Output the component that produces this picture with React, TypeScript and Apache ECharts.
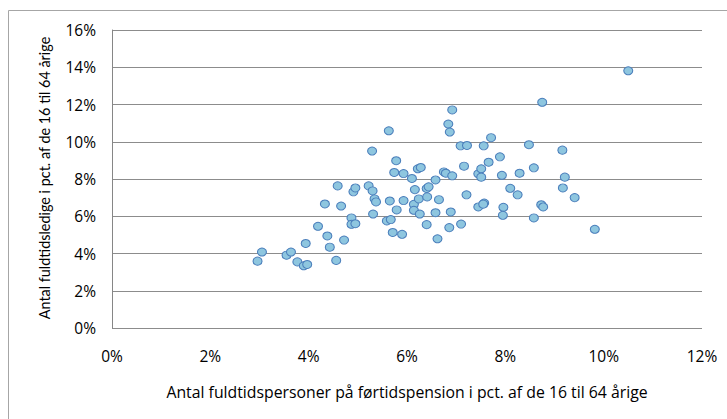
import React, { useEffect, useRef } from "react";
import * as echarts from "echarts";

// Antal fuldtidspersoner på førtidspension (pct.)
const pensionPct: number[] = [
  2.96, 3.05, 3.55, 3.64, 3.77, 3.9, 3.97, 3.94, 4.19, 4.33,
  4.38, 4.43, 4.56, 4.59, 4.66, 4.72, 4.87, 4.87, 4.95, 4.91,
  4.95, 5.22, 5.29, 5.3, 5.34, 5.37, 5.31, 5.59, 5.67, 5.63,
  5.71, 5.65, 5.74, 5.78, 5.79, 5.9, 5.93, 5.93, 6.1, 6.16,
  6.14, 6.14, 6.24, 6.26, 6.22, 6.28, 6.4, 6.4, 6.44, 6.41,
  6.58, 6.58, 6.62, 6.65, 6.75, 6.79, 6.84, 6.87, 6.92, 6.92,
  6.86, 6.89, 7.1, 7.09, 7.22, 7.16, 7.21, 7.45, 7.45, 7.51,
  7.51, 7.56, 7.57, 7.55, 7.66, 7.71, 7.89, 7.93, 7.96, 7.95,
  8.1, 8.25, 8.29, 8.48, 8.58, 8.58, 8.75, 8.73, 8.77, 9.16,
  9.21, 9.17, 9.41, 9.82, 10.5,
];

// Antal fuldtidsledige (pct.)
const ledigePct: number[] = [
  3.59, 4.08, 3.91, 4.08, 3.55, 3.34, 3.41, 4.54, 5.46, 6.66,
  4.94, 4.34, 3.63, 7.63, 6.55, 4.72, 5.91, 5.57, 5.6, 7.31,
  7.52, 7.63, 9.5, 7.36, 6.93, 6.77, 6.12, 5.75, 5.82, 10.59,
  5.13, 6.82, 8.35, 8.98, 6.34, 5.03, 6.84, 8.29, 8.03, 7.43,
  6.64, 6.32, 6.93, 6.12, 8.55, 8.62, 5.55, 7.49, 7.58, 7.04,
  7.95, 6.19, 4.79, 6.89, 8.38, 8.31, 10.95, 10.52, 11.71, 8.17,
  5.39, 6.23, 5.58, 9.78, 9.8, 8.69, 7.15, 6.5, 8.28, 8.55,
  8.1, 9.78, 6.71, 6.65, 8.9, 10.22, 9.19, 8.2, 6.48, 6.05,
  7.5, 7.15, 8.31, 9.84, 8.6, 5.91, 12.12, 6.62, 6.5, 9.55,
  8.1, 7.52, 7.0, 5.3, 13.81,
];

const xTitle = "Antal fuldtidspersoner på førtidspension i pct. af de 16 til 64 årige";
const yTitle = "Antal fuldtidsledige i pct. af de 16 til 64 årige";

export default function App() {
  const ref = useRef<HTMLDivElement>(null);

  useEffect(() => {
    if (!ref.current) return;
    const chart = echarts.init(ref.current, null, { renderer: "svg" });
    const data = pensionPct.map((x, i) => [x, ledigePct[i]]);
    const hFont = "'Open Sans', sans-serif";
    chart.setOption({
      animation: false,
      backgroundColor: "#ffffff",
      grid: { left: 112, right: 25, top: 30, bottom: 91 },
      xAxis: {
        type: "value",
        min: 0,
        max: 12,
        interval: 2,
        axisLine: { show: false },
        axisTick: { show: false },
        splitLine: { show: false },
        axisLabel: {
          formatter: (v: number) => `${v}%`,
          color: "#000",
          fontFamily: hFont,
          fontSize: 15.5,
          margin: 20,
        },
      },
      yAxis: {
        type: "value",
        min: 0,
        max: 16,
        interval: 2,
        axisLine: { show: true, lineStyle: { color: "#868686", width: 1 } },
        axisTick: { show: false },
        splitLine: { show: true, lineStyle: { color: "#8c8c8c", width: 1 } },
        axisLabel: {
          formatter: (v: number) => `${v}%`,
          color: "#000",
          fontFamily: hFont,
          fontSize: 15.5,
          margin: 16,
        },
      },
      graphic: [
        {
          type: "rect",
          shape: { x: 8.5, y: 10.5, width: 740, height: 430 },
          style: { fill: "none", stroke: "#a6a6a6", lineWidth: 1 },
          silent: true,
        },
        {
          type: "text",
          x: 407,
          y: 392,
          style: {
            text: xTitle,
            fontFamily: hFont,
            fontSize: 15.8,
            fill: "#000",
            align: "center",
            verticalAlign: "middle",
          },
        },
        {
          type: "text",
          x: 44,
          y: 178,
          rotation: Math.PI / 2,
          style: {
            text: yTitle,
            fontFamily: "Lato, sans-serif",
            fontSize: 14.4,
            fill: "#000",
            align: "center",
            verticalAlign: "middle",
          },
        },
      ],
      series: [
        {
          type: "scatter",
          data,
          symbol: "circle",
          symbolSize: [9, 8],
          itemStyle: {
            color: "#8ec6df",
            borderColor: "#4a7ebb",
            borderWidth: 1,
            opacity: 1,
          },
        },
      ],
    });
    return () => chart.dispose();
  }, []);

  return (
    <div
      ref={ref}
      style={{ position: "fixed", left: 0, top: 0, width: 727, height: 419 }}
    />
  );
}
